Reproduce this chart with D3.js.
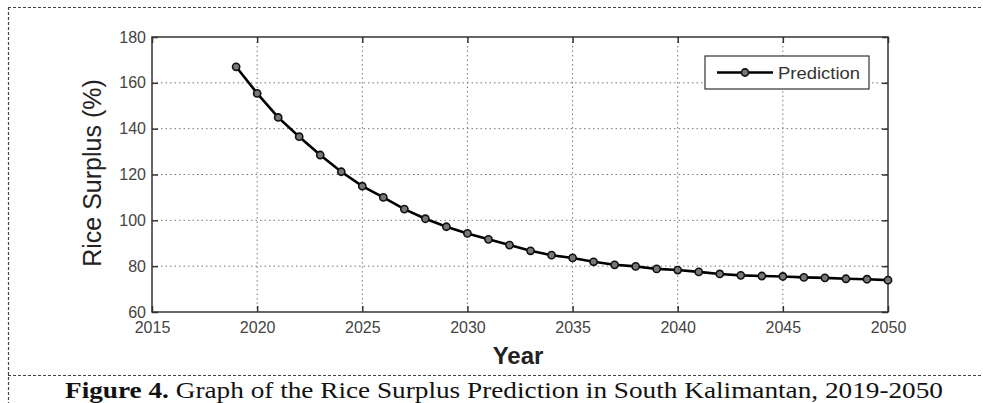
<!DOCTYPE html>
<html>
<head>
<meta charset="utf-8">
<script src="https://cdn.jsdelivr.net/npm/d3@7"></script>
<style>
  html, body { margin: 0; padding: 0; background: #fff; }
  svg { display: block; }
</style>
</head>
<body>
<svg id="chart" width="983" height="403"></svg>
<script>
const years = [2019,2020,2021,2022,2023,2024,2025,2026,2027,2028,2029,2030,2031,2032,2033,2034,
               2035,2036,2037,2038,2039,2040,2041,2042,2043,2044,2045,2046,2047,2048,2049,2050];
const prediction = [167.0,155.4,144.9,136.5,128.5,121.2,114.9,110.0,104.9,100.7,97.2,94.3,91.7,89.2,86.7,84.8,
                    83.6,81.9,80.6,79.9,78.8,78.3,77.5,76.6,76.0,75.7,75.5,75.1,74.9,74.5,74.3,73.9];
const xTicks = [2015,2020,2025,2030,2035,2040,2045,2050];
const yTicks = [60,80,100,120,140,160,180];
const seriesName = "Prediction";
const xTitle = "Year";
const yTitle = "Rice Surplus (%)";
const captionBold = "Figure 4.";
const captionRest = " Graph of the Rice Surplus Prediction in South Kalimantan, 2019-2050";

const svg = d3.select("#chart");
const L = 152, R = 888, T = 37, B = 312;
const x = d3.scaleLinear().domain([2015, 2050]).range([L, R]);
const y = d3.scaleLinear().domain([60, 180]).range([B, T]);

// dashed page frame
const frame = svg.append("g").attr("stroke", "#444").attr("stroke-width", 1.2).attr("stroke-dasharray", "3,2").attr("fill", "none");
frame.append("line").attr("x1", 8).attr("x2", 983).attr("y1", 7.5).attr("y2", 7.5);
frame.append("line").attr("x1", 8.5).attr("x2", 8.5).attr("y1", 7).attr("y2", 403);
frame.append("line").attr("x1", 8).attr("x2", 983).attr("y1", 375.5).attr("y2", 375.5);

// grid
const grid = svg.append("g").attr("stroke", "#777").attr("stroke-width", 1).attr("stroke-dasharray", "1.5,3");
grid.selectAll("line.v").data(xTicks.slice(1, -1)).enter().append("line")
  .attr("x1", d => x(d)).attr("x2", d => x(d)).attr("y1", T).attr("y2", B);
grid.selectAll("line.h").data(yTicks.slice(1, -1)).enter().append("line")
  .attr("x1", L).attr("x2", R).attr("y1", d => y(d)).attr("y2", d => y(d));

// axes (MATLAB-like: inward ticks on all sides)
const tickLen = 6;
const axisColor = "#333";
svg.append("g").attr("transform", `translate(0,${B})`)
  .call(d3.axisBottom(x).tickValues(xTicks).tickFormat(d3.format("d")).tickSize(-tickLen).tickPadding(10))
  .call(g => { g.select(".domain").remove(); g.selectAll("line").attr("stroke", axisColor).attr("stroke-width", 1.5);
               g.selectAll("text").attr("font-family", "Liberation Sans, Arial, sans-serif").attr("font-size", 16).attr("fill", "#444"); });
svg.append("g").attr("transform", `translate(0,${T})`)
  .call(d3.axisTop(x).tickValues(xTicks).tickFormat("").tickSize(-tickLen))
  .call(g => { g.select(".domain").remove(); g.selectAll("line").attr("stroke", axisColor).attr("stroke-width", 1.5); });
svg.append("g").attr("transform", `translate(${L},0)`)
  .call(d3.axisLeft(y).tickValues(yTicks).tickSize(-tickLen).tickPadding(6))
  .call(g => { g.select(".domain").remove(); g.selectAll("line").attr("stroke", axisColor).attr("stroke-width", 1.5);
               g.selectAll("text").attr("font-family", "Liberation Sans, Arial, sans-serif").attr("font-size", 16).attr("fill", "#444"); });
svg.append("g").attr("transform", `translate(${R},0)`)
  .call(d3.axisRight(y).tickValues(yTicks).tickFormat("").tickSize(-tickLen))
  .call(g => { g.select(".domain").remove(); g.selectAll("line").attr("stroke", axisColor).attr("stroke-width", 1.5); });

// box
svg.append("rect").attr("x", L).attr("y", T).attr("width", R - L).attr("height", B - T)
  .attr("fill", "none").attr("stroke", axisColor).attr("stroke-width", 1.5);

// series
const pts = years.map((yr, i) => ({ yr, v: prediction[i] }));
svg.append("path").datum(pts)
  .attr("d", d3.line().x(d => x(d.yr)).y(d => y(d.v)))
  .attr("fill", "none").attr("stroke", "#000").attr("stroke-width", 2.6);
svg.append("g").selectAll("circle").data(pts).enter().append("circle")
  .attr("cx", d => x(d.yr)).attr("cy", d => y(d.v)).attr("r", 3.6)
  .attr("fill", "#777").attr("stroke", "#111").attr("stroke-width", 1.6);

// legend
const lg = svg.append("g");
lg.append("rect").attr("x", 705).attr("y", 56).attr("width", 164).attr("height", 33)
  .attr("fill", "#fff").attr("stroke", "#333").attr("stroke-width", 1.2);
lg.append("line").attr("x1", 717).attr("x2", 773).attr("y1", 72.5).attr("y2", 72.5)
  .attr("stroke", "#000").attr("stroke-width", 2.6);
lg.append("circle").attr("cx", 745).attr("cy", 72.5).attr("r", 3.6)
  .attr("fill", "#777").attr("stroke", "#111").attr("stroke-width", 1.6);
lg.append("text").attr("x", 778).attr("y", 79).text(seriesName)
  .attr("font-family", "Liberation Sans, Arial, sans-serif").attr("font-size", 17).attr("fill", "#333")
  .attr("textLength", 82).attr("lengthAdjust", "spacingAndGlyphs");

// axis titles
svg.append("text").attr("x", 518).attr("y", 364).attr("text-anchor", "middle").text(xTitle)
  .attr("font-family", "Liberation Sans, Arial, sans-serif").attr("font-size", 24).attr("font-weight", "bold").attr("fill", "#222");
svg.append("text").attr("transform", "translate(101,173) rotate(-90)").attr("text-anchor", "middle").text(yTitle)
  .attr("font-family", "Liberation Sans, Arial, sans-serif").attr("font-size", 25).attr("fill", "#222");

// caption
const cap = svg.append("text").attr("x", 65).attr("y", 397.5)
  .attr("font-family", "Liberation Serif, Times New Roman, serif").attr("font-size", 23).attr("fill", "#111")
  .attr("textLength", 878).attr("lengthAdjust", "spacingAndGlyphs");
cap.append("tspan").attr("font-weight", "bold").text(captionBold);
cap.append("tspan").text(captionRest);
</script>
</body>
</html>
